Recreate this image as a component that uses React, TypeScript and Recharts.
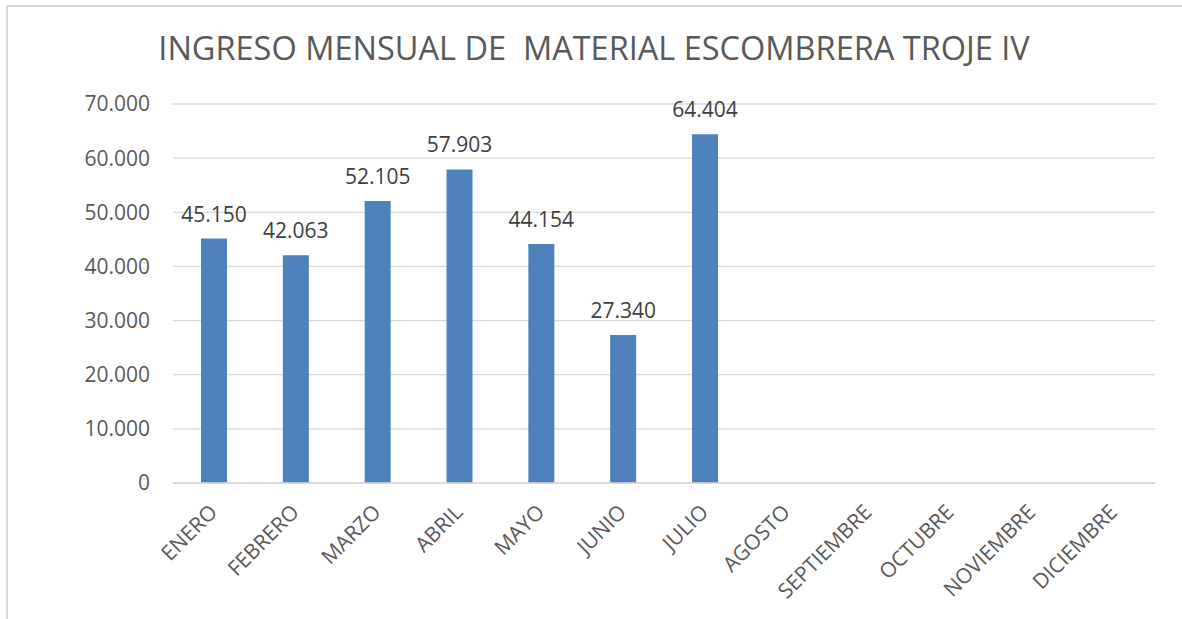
import { BarChart, Bar, XAxis, YAxis, CartesianGrid, LabelList } from "recharts";

const months = [
  "ENERO",
  "FEBRERO",
  "MARZO",
  "ABRIL",
  "MAYO",
  "JUNIO",
  "JULIO",
  "AGOSTO",
  "SEPTIEMBRE",
  "OCTUBRE",
  "NOVIEMBRE",
  "DICIEMBRE",
];
const ingreso: (number | null)[] = [45150, 42063, 52105, 57903, 44154, 27340, 64404, null, null, null, null, null];
const yTicks = [0, 10000, 20000, 30000, 40000, 50000, 60000, 70000];

const data = months.map((mes, i) => ({ mes, valor: ingreso[i] }));

// separador de miles con punto, como en el original
function fmt(v: unknown) {
  if (v == null || v === "") return "";
  return String(v).replace(/\B(?=(\d{3})+(?!\d))/g, ".");
}

export default function App() {
  return (
    <div style={{ position: "absolute", left: 0, top: 0, width: 1182, height: 619, fontFamily: "'Open Sans'", background: "#fff" }}>
      <div
        style={{
          position: "absolute",
          left: 6,
          top: 5,
          width: 1176,
          height: 614,
          borderTop: "2px solid #d9d9d9",
          borderLeft: "2px solid #d9d9d9",
          boxSizing: "border-box",
        }}
      />
      <div
        style={{
          position: "absolute",
          left: 3,
          top: 32,
          width: 1182,
          textAlign: "center",
          fontSize: 32.5,
          lineHeight: 1,
          color: "#595959",
          whiteSpace: "pre",
        }}
      >
        INGRESO MENSUAL DE  MATERIAL ESCOMBRERA TROJE IV
      </div>
      <div style={{ position: "absolute", left: 0, top: 0 }}>
        <BarChart width={1182} height={619} data={data} margin={{ top: 104, right: 27, left: 73, bottom: 6 }}>
          <CartesianGrid vertical={false} stroke="#d9d9d9" strokeWidth={1.3} />
          <XAxis
            dataKey="mes"
            interval={0}
            height={130}
            angle={-45}
            textAnchor="end"
            tickMargin={14}
            axisLine={{ stroke: "#d9d9d9", strokeWidth: 1.3 }}
            tickLine={false}
            tick={{ fontSize: 21, fill: "#595959", dx: -6 }}
          />
          <YAxis
            domain={[0, 70000]}
            ticks={yTicks}
            width={100}
            axisLine={false}
            tickLine={false}
            tickMargin={17}
            tickFormatter={(v: number) => fmt(v)}
            tick={{ fontSize: 21, fill: "#595959" }}
          />
          <Bar dataKey="valor" fill="#4f81bd" barSize={26} isAnimationActive={false}>
            <LabelList dataKey="valor" position="top" offset={17} formatter={fmt} style={{ fontSize: 21, fill: "#404040" }} />
          </Bar>
        </BarChart>
      </div>
    </div>
  );
}
